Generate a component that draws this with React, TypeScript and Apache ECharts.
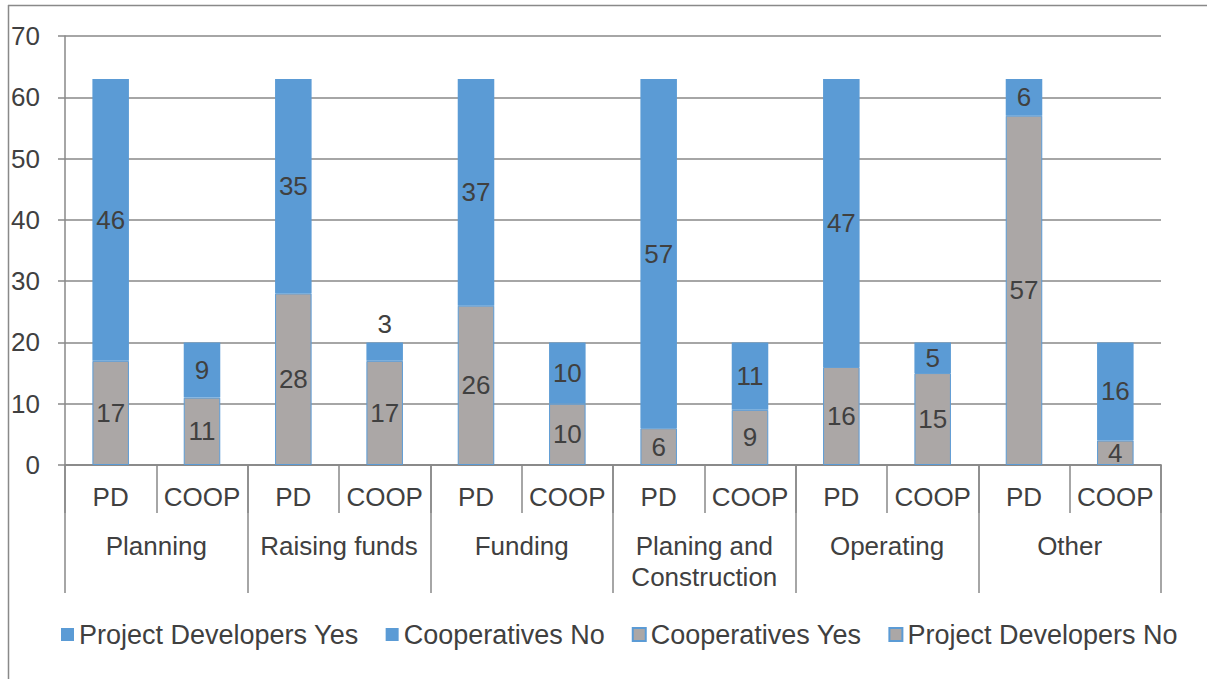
import React, { useEffect, useRef } from "react";
import * as echarts from "echarts";

const groups = ["Planning", "Raising funds", "Funding", "Planing and\nConstruction", "Operating", "Other"];
const subCategories = ["PD", "COOP"];
const pdYes = [46, 35, 37, 57, 47, 6];
const pdNo = [17, 28, 26, 6, 16, 57];
const coopYes = [11, 17, 10, 9, 15, 4];
const coopNo = [9, 3, 10, 11, 5, 16];
const yTicks = { min: 0, max: 70, interval: 10 };

const BLUE = "#5B9BD5";
const GRAY = "#ABA7A6";
const TEXT = "#404040";
const LINE = "#898989";
const FONT = "Liberation Sans, Arial, sans-serif";
const FS = 26;

function spread(values: number[], slot: number) {
  const out: any[] = [];
  values.forEach((v) => {
    for (let s = 0; s < 2; s++) {
      if (s === slot) {
        out.push(v < 4 ? { value: v, label: { position: "top" } } : v);
      } else {
        out.push("-");
      }
    }
  });
  return out;
}

export default function App() {
  const ref = useRef<HTMLDivElement>(null);
  useEffect(() => {
    const chart = echarts.init(ref.current!, undefined, { renderer: "svg" });
    const cats: string[] = [];
    groups.forEach(() => subCategories.forEach((s) => cats.push(s)));
    const label = { show: true, position: "inside", color: TEXT, fontSize: FS, fontFamily: FONT };
    const mk = (name: string, data: any[], color: string, border: boolean) => ({
      name,
      type: "bar",
      stack: "total",
      barWidth: "40%",
      data,
      label,
      itemStyle: { color, borderColor: border ? BLUE : color, borderWidth: border ? 1 : 0 },
    });
    chart.setOption({
      animation: false,
      textStyle: { fontFamily: FONT },
      grid: { left: 65, right: 46, top: 36, bottom: 214, containLabel: false },
      graphic: [
        { type: "line", shape: { x1: 8, y1: 5.5, x2: 1207, y2: 5.5 }, style: { stroke: LINE, lineWidth: 1.5 } },
        { type: "line", shape: { x1: 8.5, y1: 5, x2: 8.5, y2: 679 }, style: { stroke: LINE, lineWidth: 1.5 } },
      ],
      legend: {
        left: 56,
        top: 616,
        itemWidth: 13,
        itemHeight: 13,
        itemGap: 27,
        icon: "rect",
        textStyle: { color: TEXT, fontSize: 27, fontFamily: FONT },
        data: ["Project Developers Yes", "Cooperatives No", "Cooperatives Yes", "Project Developers No"],
      },
      xAxis: [
        {
          type: "category",
          position: "bottom",
          data: cats,
          axisLine: { show: true, lineStyle: { color: LINE, width: 1.5 } },
          axisTick: { show: true, length: 48, interval: 0, lineStyle: { color: LINE, width: 1.5 } },
          axisLabel: { interval: 0, margin: 19, color: TEXT, fontSize: FS, fontFamily: FONT },
        },
        {
          type: "category",
          position: "bottom",
          data: groups,
          axisLine: { show: true, lineStyle: { color: LINE, width: 1.5 } },
          axisTick: { show: true, length: 128, interval: 0, lineStyle: { color: LINE, width: 1.5 } },
          axisLabel: { interval: 0, margin: 65, color: TEXT, fontSize: FS, lineHeight: 31, fontFamily: FONT },
        },
      ],
      yAxis: {
        type: "value",
        min: yTicks.min,
        max: yTicks.max,
        interval: yTicks.interval,
        axisLine: { show: true, lineStyle: { color: LINE, width: 1.5 } },
        axisTick: { show: true, length: 7, lineStyle: { color: LINE, width: 1.5 } },
        axisLabel: { margin: 25, color: TEXT, fontSize: FS, fontFamily: FONT },
        splitLine: { show: true, lineStyle: { color: LINE, width: 1.5 } },
      },
      series: [
        mk("Project Developers No", spread(pdNo, 0), GRAY, true),
        mk("Cooperatives Yes", spread(coopYes, 1), GRAY, true),
        mk("Project Developers Yes", spread(pdYes, 0), BLUE, false),
        mk("Cooperatives No", spread(coopNo, 1), BLUE, false),
      ],
    });
    return () => chart.dispose();
  }, []);
  return (
    <div
      ref={ref}
      style={{ position: "fixed", left: 0, top: 0, width: 1207, height: 679, background: "#fff" }}
    />
  );
}
